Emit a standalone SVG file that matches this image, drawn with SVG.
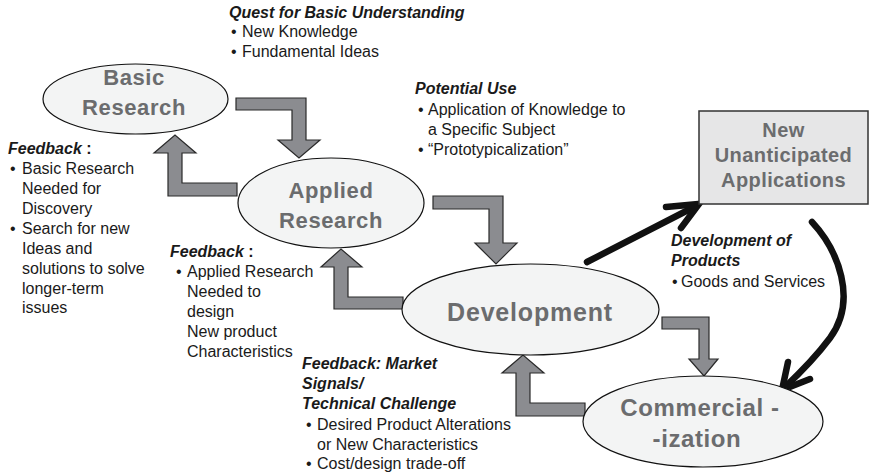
<svg xmlns="http://www.w3.org/2000/svg" width="871" height="476" viewBox="0 0 871 476">
<style>
text{font-family:"Liberation Sans",Arial,Helvetica,sans-serif;}
.node{fill:#f3f4f4;stroke:#111;stroke-width:1.2}
.box{fill:#e6e6e7;stroke:#333;stroke-width:1.5}
.lbl{font-weight:bold;fill:#6b6c6e;text-anchor:middle;font-size:22px;letter-spacing:0.6px}
.big{font-size:24px}
.dev{font-size:25px;letter-spacing:0.8px}
.boxl{font-size:20px;letter-spacing:0.4px}
.flow{fill:#8b8c90;stroke:#2a2a2a;stroke-width:1.2;stroke-linejoin:miter}
.blk{fill:none;stroke:#111;stroke-width:6.5;stroke-linecap:round;stroke-linejoin:miter}
.h{font-weight:bold;font-style:italic;font-size:16px;fill:#1a1a1a}
.t{font-size:16px;fill:#1a1a1a}
.c{font-style:normal}
</style>
<g id="connectors">
<path class="flow" d="M236,98 H306 V140 H320 L299,158 L278,140 H292 V110 H236 Z"/>
<path class="flow" d="M433,196 H503 V243 H517 L496,264 L475,243 H489 V209 H433 Z"/>
<path class="flow" d="M662,317 H709 V359 H718 L704,376 L689,359 H699 V329 H662 Z"/>
<path class="flow" d="M168,196 V153 H154 L175,135 L196,153 H182 V183 H237 V196 Z"/>
<path class="flow" d="M334,309 V267 H321 L341,249 L362,267 H348 V297 H403 V309 Z"/>
<path class="flow" d="M516,416 V373 H502 L523,355 L544,373 H530 V403 H585 V416 Z"/>
<path class="blk" d="M587,262 L696,206"/>
<path class="blk" d="M666,207 L699,204 L681,228"/>
<path class="blk" d="M812,222 C838,250 858,300 830,338 C815,358 800,373 784,388"/>
<path class="blk" d="M788,362 L782,390 L810,379"/>
</g>
<g id="basic-research">
<ellipse class="node" cx="135.5" cy="99" rx="92.5" ry="35"/>
<text class="lbl" x="134" y="85">Basic</text>
<text class="lbl" x="134" y="115">Research</text>
</g>
<g id="applied-research">
<ellipse class="node" cx="331" cy="203" rx="93" ry="45"/>
<text class="lbl" x="331" y="198">Applied</text>
<text class="lbl" x="331" y="228">Research</text>
</g>
<g id="development">
<ellipse class="node" cx="530.5" cy="309.5" rx="128.5" ry="45.5"/>
<text class="lbl dev" x="530" y="321">Development</text>
</g>
<g id="commercialization">
<ellipse class="node" cx="703" cy="421.5" rx="120" ry="45.5"/>
<text class="lbl big" x="700" y="416">Commercial -</text>
<text class="lbl big" x="697" y="447">-ization</text>
</g>
<g id="new-applications">
<rect class="box" x="699" y="111" width="169" height="93"/>
<text class="lbl boxl" x="783.5" y="137">New</text>
<text class="lbl boxl" x="783.5" y="162">Unanticipated</text>
<text class="lbl boxl" x="783.5" y="187">Applications</text>
</g>
<g id="note-quest">
<text class="h" x="229" y="18">Quest for Basic Understanding</text>
<text class="t" y="37"><tspan x="231">•</tspan><tspan x="242">New Knowledge</tspan></text>
<text class="t" y="57"><tspan x="231">•</tspan><tspan x="242">Fundamental Ideas</tspan></text>
</g>
<g id="note-potential">
<text class="h" x="415" y="94">Potential Use</text>
<text class="t" y="115"><tspan x="418">•</tspan><tspan x="428">Application of Knowledge to</tspan></text>
<text class="t" x="428" y="135">a Specific Subject</text>
<text class="t" y="155"><tspan x="418">•</tspan><tspan x="428">“Prototypicalization”</tspan></text>
</g>
<g id="note-feedback-basic">
<text class="h" x="8" y="154">Feedback<tspan class="c"> :</tspan></text>
<text class="t" y="174"><tspan x="10">•</tspan><tspan x="22">Basic Research</tspan></text>
<text class="t" x="22" y="194">Needed for</text>
<text class="t" x="22" y="214">Discovery</text>
<text class="t" y="234"><tspan x="10">•</tspan><tspan x="22">Search for new</tspan></text>
<text class="t" x="22" y="254">Ideas and</text>
<text class="t" x="22" y="274">solutions to solve</text>
<text class="t" x="22" y="294">longer-term</text>
<text class="t" x="22" y="313">issues</text>
</g>
<g id="note-feedback-applied">
<text class="h" x="170" y="257">Feedback<tspan class="c"> :</tspan></text>
<text class="t" y="277"><tspan x="176">•</tspan><tspan x="187">Applied Research</tspan></text>
<text class="t" x="187" y="297">Needed to</text>
<text class="t" x="187" y="317">design</text>
<text class="t" x="187" y="337">New product</text>
<text class="t" x="187" y="357">Characteristics</text>
</g>
<g id="note-products">
<text class="h" x="671" y="246">Development of</text>
<text class="h" x="671" y="266">Products</text>
<text class="t" y="287"><tspan x="672">•</tspan><tspan x="681">Goods and Services</tspan></text>
</g>
<g id="note-market">
<text class="h" x="302" y="369">Feedback: Market</text>
<text class="h" x="302" y="389">Signals/</text>
<text class="h" x="302" y="409">Technical Challenge</text>
<text class="t" y="430"><tspan x="306">•</tspan><tspan x="317">Desired Product Alterations</tspan></text>
<text class="t" x="317" y="450">or New Characteristics</text>
<text class="t" y="469"><tspan x="306">•</tspan><tspan x="317">Cost/design trade-off</tspan></text>
</g>
</svg>
